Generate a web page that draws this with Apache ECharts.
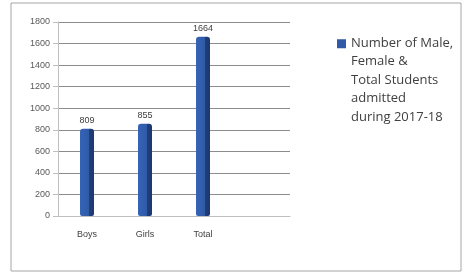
<!DOCTYPE html>
<html>
<head>
<meta charset="utf-8">
<script src="https://cdn.jsdelivr.net/npm/echarts@6/dist/echarts.min.js"></script>
<style>
  html, body { margin: 0; padding: 0; background: #fff; }
  #chart { width: 466px; height: 273px; }
</style>
</head>
<body>
<div id="chart"></div>
<script>
var categories = ['Boys', 'Girls', 'Total', ''];
var students = [809, 855, 1664, null];
var yTicks = { min: 0, max: 1800, interval: 200 };
var seriesName = 'Number of Male,\nFemale &\nTotal Students\nadmitted\nduring 2017-18';

var myChart = echarts.init(document.getElementById('chart'));
var option = {
    animation: false,
    graphic: [{
        type: 'rect',
        shape: { x: 11, y: 3, width: 450, height: 268 },
        style: { fill: 'none', stroke: '#a6a6a6', lineWidth: 1 }
    }],
    legend: {
        orient: 'vertical',
        left: 337,
        top: 34,
        padding: 0,
        itemWidth: 9,
        itemHeight: 92,
        itemGap: 0,
        // square sits beside the first text line
        icon: 'path://M0,0L0.01,0ZM0,5L9,5L9,14L0,14ZM0,92L0.01,92Z',
        itemStyle: { color: '#2f5aa6' },
        textStyle: {
            color: '#404040',
            fontSize: 13,
            lineHeight: 18.5,
            fontFamily: 'Open Sans'
        },
        data: [{ name: seriesName }]
    },
    grid: {
        left: 58,
        right: 176,
        top: 22,
        bottom: 57
    },
    xAxis: {
        type: 'category',
        data: categories,
        axisLine: { lineStyle: { color: '#bfbfbf' } },
        axisTick: { show: false },
        axisLabel: {
            color: '#404040',
            fontSize: 9,
            margin: 14
        }
    },
    yAxis: {
        type: 'value',
        min: yTicks.min,
        max: yTicks.max,
        interval: yTicks.interval,
        axisLine: { show: true, lineStyle: { color: '#bfbfbf' } },
        axisTick: { show: true, length: 5, lineStyle: { color: '#bfbfbf' } },
        axisLabel: {
            color: '#595959',
            fontSize: 9,
            margin: 8,
            formatter: function (v) { return String(v); }
        },
        splitLine: { lineStyle: { color: '#8c8c8c', width: 1 } }
    },
    series: [{
        name: seriesName,
        type: 'bar',
        data: students,
        barWidth: 14,
        itemStyle: {
            color: new echarts.graphic.LinearGradient(0, 0, 1, 0, [
                { offset: 0, color: '#3564b6' },
                { offset: 0.65, color: '#2f5aa6' },
                { offset: 0.66, color: '#1f3f7a' },
                { offset: 1, color: '#1c3870' }
            ]),
            borderRadius: [3, 3, 2, 2]
        },
        label: {
            show: true,
            position: 'top',
            color: '#404040',
            fontSize: 9,
            distance: 4
        }
    }]
};
myChart.setOption(option);
</script>
</body>
</html>
